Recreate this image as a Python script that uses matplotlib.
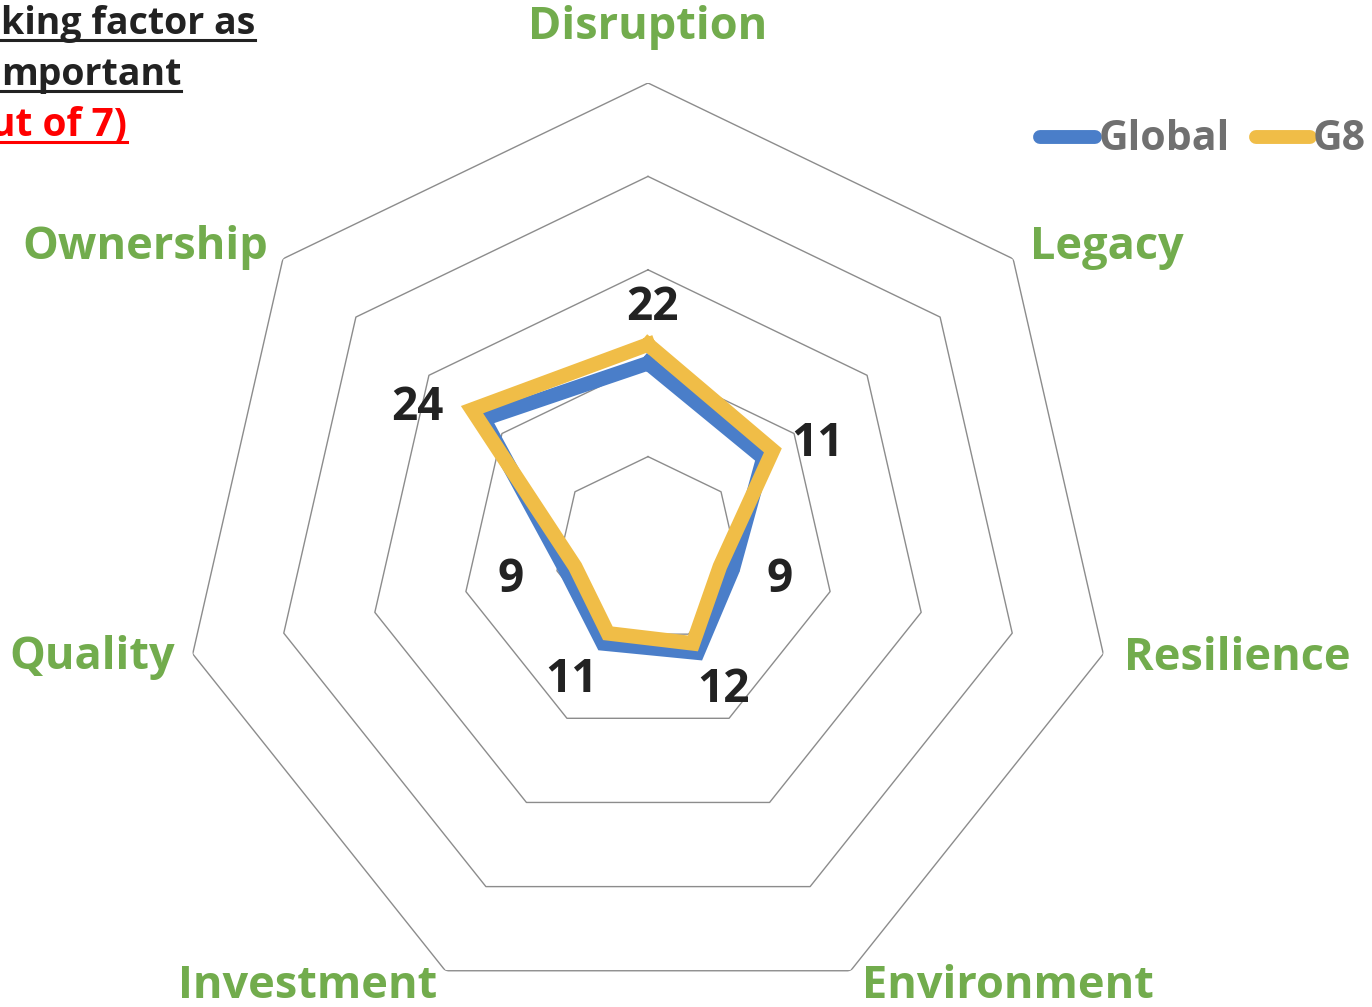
import numpy as np
import matplotlib
matplotlib.use("Agg")
import matplotlib.pyplot as plt
from matplotlib.lines import Line2D

# ---- data ----
categories = ["Disruption", "Legacy", "Resilience", "Environment", "Investment", "Quality", "Ownership"]
series_names = ["Global", "G8"]
global_vals = [20.0, 15.8, 9.3, 12.2, 11.1, 9.1, 22.5]
g8_vals = [22.0, 17.1, 7.9, 11.1, 9.9, 8.0, 24.1]
data_labels = ["22", "11", "9", "12", "11", "9", "24"]
ring_levels = [10, 20, 30, 40, 50]
title_lines = ["king factor as", "mportant", "ut of 7)"]

W, H = 1372, 1007
fig = plt.figure(figsize=(W / 100, H / 100), dpi=100)
FONT = "Open Sans"

def px(x, y):
    return x / W, 1 - y / H

# polar axes positioned so centre is at (648, 550) px, radius 467 px
cx, cy, R = 648, 550, 467
ax = fig.add_axes([(cx - R) / W, (H - cy - R) / H, 2 * R / W, 2 * R / H], projection="polar")
ax.set_theta_zero_location("N")
ax.set_theta_direction(-1)
ax.set_ylim(0, ring_levels[-1])
ax.grid(False)
ax.spines["polar"].set_visible(False)
ax.set_xticks([])
ax.set_yticks([])
ax.patch.set_alpha(0)

n = len(categories)
angles = np.linspace(0, 2 * np.pi, n, endpoint=False)
ang_c = np.concatenate([angles, angles[:1]])

for r in ring_levels:
    ax.plot(ang_c, [r] * (n + 1), color="#8c8c8c", lw=1.0, zorder=1)

colors = {"Global": "#4A7EC9", "G8": "#F0BD47"}
for name, vals in zip(series_names, [global_vals, g8_vals]):
    v = np.concatenate([vals, vals[:1]])
    ax.plot(ang_c, v, color=colors[name], lw=10.5, solid_joinstyle="miter", zorder=3)

# category labels
green = "#72AC4D"
cat_pos = {
    "Disruption": (648, 27, "center"),
    "Legacy": (1030, 247, "left"),
    "Resilience": (1124, 658, "left"),
    "Environment": (862, 987, "left"),
    "Investment": (437, 987, "right"),
    "Quality": (175, 658, "right"),
    "Ownership": (268, 247, "right"),
}
for c in categories:
    x, y, ha = cat_pos[c]
    fig.text(*px(x, y), c, color=green, fontsize=32.5, fontweight="bold",
             family=FONT, ha=ha, va="center")

# data labels
lab_pos = [(652, 308), (818, 443), (780, 580), (724, 690), (572, 680), (511, 580), (417, 408)]
for lab, (x, y) in zip(data_labels, lab_pos):
    fig.text(*px(x, y), lab, color="#222222", fontsize=33, fontweight="bold",
             family=FONT, ha="center", va="center")

# legend (manual)
leg_items = [("Global", 1040, 1095, 1099), ("G8", 1256, 1310, 1313)]
for name, x0, x1, tx in leg_items:
    fig.add_artist(Line2D([x0 / W, x1 / W], [1 - 137 / H] * 2, color=colors[name], lw=10,
                          solid_capstyle="round"))
    fig.text(*px(tx, 139), name, color="#707070", fontsize=29.5, fontweight="bold",
             family=FONT, ha="left", va="center")

# title (partly cut off on the left, as in the source)
title_x = [(1, "left"), (1, "left"), (127, "right")]
title_base = [34, 85, 136]
title_cols = ["#222222", "#222222", "#FF0000"]
title_sizes = [27, 27, 28]
texts = []
for line, (xr, ha), yb, col, fs in zip(title_lines, title_x, title_base, title_cols, title_sizes):
    t = fig.text(*px(xr, yb), line, color=col, fontsize=fs, fontweight="bold",
                 family=FONT, ha=ha, va="baseline")
    texts.append((t, yb, col))
fig.canvas.draw()
rend = fig.canvas.get_renderer()
for t, yb, col in texts:
    bb = t.get_window_extent(rend)
    fig.add_artist(Line2D([0, bb.x1 / W], [1 - (yb + 6) / H] * 2, color=col, lw=2.2))

fig.savefig("out.png", dpi=100)
